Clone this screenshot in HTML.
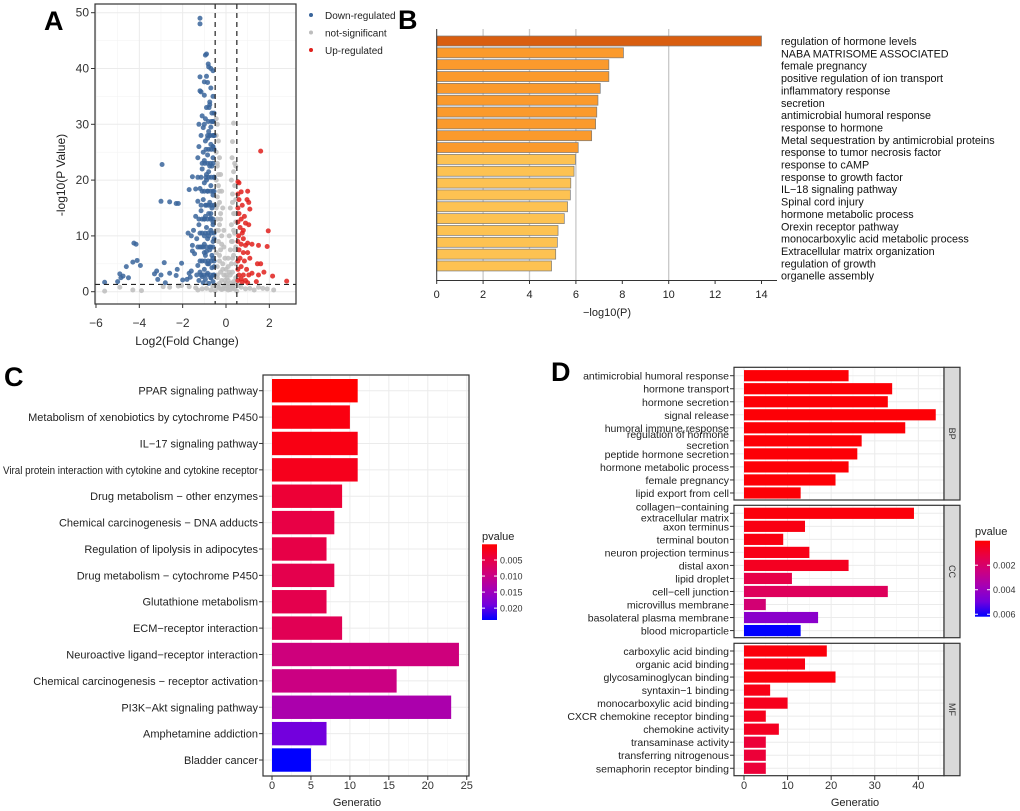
<!DOCTYPE html>
<html><head><meta charset="utf-8"><style>
body{margin:0;background:#fff;}
svg{display:block;font-family:"Liberation Sans",sans-serif;}
</style></head><body>
<svg id="fig" width="1020" height="811" viewBox="0 0 1020 811">
<g font-weight="bold" font-size="27">
<text x="44" y="30">A</text>
<text x="398" y="29">B</text>
<text x="4" y="386">C</text>
<text x="551" y="381">D</text>
</g>
</svg>
<script>
const NS="http://www.w3.org/2000/svg";
const svg=document.getElementById('fig');
function mk(tag,attrs,parent,text){const e=document.createElementNS(NS,tag);for(const k in attrs)e.setAttribute(k,attrs[k]);if(text!==undefined)e.textContent=text;(parent||svg).appendChild(e);return e;}
function fit(el,maxW){const w=el.getComputedTextLength();if(w>maxW){el.setAttribute('textLength',maxW);el.setAttribute('lengthAdjust','spacingAndGlyphs');}}

// ---------- Panel A data ----------
const blueX=[-5.6,-5.0,-4.9,-4.85,-4.75,-4.6,-4.5,-4.3,-4.25,-4.15,-4.1,-3.95,-3.3,-3.2,-3.15,-3.0,-2.95,-3.0,-2.85,-2.8,-2.6,-2.6,-2.3,-2.2,-2.25,-2.3,-2.05,-2.0,-1.8,-1.7,-1.65,-1.6,-1.7,-1.55,-1.4,-1.75,-1.6,-1.55,-1.55,-1.5,
-1.2,-1.2,-0.9,-0.95,-0.82,-0.8,-0.7,-0.6,-1.2,-0.9,-1.0,-0.85,-0.7,-1.2,-1.15,-1.0,-0.6,-0.75,-0.9,-0.65,-1.1,-1.25,-1.05,-0.8,-1.15,-0.55,-0.95,-0.7,-1.25,-1.05,-0.85,-0.6,-1.3,-1.0,-0.75,-1.1,-0.9,-0.55,-1.3,-1.0,-0.7,-1.2,-0.85,-0.6,-1.05,-1.3,-0.9,-0.65,-1.15,-0.8,-1.4,-1.0,-0.6,-1.25,-0.9,-0.7,-1.1,-1.35,-0.85,-0.6,-1.0,-1.2,-0.75,-1.45,-0.95,-0.6,-1.1,-0.8,-1.3,-0.65,-1.0,-1.2,-0.85,-0.55,-1.1,-0.7,-0.95,-1.25,-0.6,-0.8,-1.05,-0.75,-0.6,-0.95,-0.7,-0.85,-0.6,-0.8,-0.65,-0.75,-0.95,-0.7,-0.8,-0.9,-0.7,-1.0,-0.55,-0.65,-0.55,-0.6,-0.7,-0.55,-0.9,-1.1,-0.6,-0.75,-1.0,
-0.55,-0.7,-0.85,-1.0,-1.15,-1.35,-0.58,-0.72,-0.88,-1.02,-1.2,-0.55,-0.68,-0.82,-0.97,-1.12,-1.3,-0.6,-0.75,-0.9,-1.05,-1.2,-0.55,-0.68,-0.82,-0.95,-1.1,-1.25,-0.6,-0.72,-0.85,-1.0,-1.15,-0.55,-0.68,-0.8,-0.95,-1.1,-0.6,-0.72,-0.85,-1.0,-1.15,-0.55,-0.68,-0.8,-0.92,-0.6,-0.72,-0.85,-0.98,-0.55,-0.68,-0.8,-0.92,-0.6,-0.72,-0.85,-0.55,-0.68,-0.82,-0.6,-0.78];
const blueY=[1.7,1.8,3.2,2.5,2.8,4.5,2.5,5.3,8.7,8.5,5.6,4.7,3.2,3.7,2.2,3.0,22.8,16.2,5.2,1.6,16.1,3.3,15.8,15.8,4.0,2.9,5.1,2.1,2.2,3.3,2.6,3.7,18.3,20.6,18.4,10.5,10.0,7.3,8.3,11.0,
49,48,42.6,42.4,40.8,40.3,40,39.6,38.5,38.6,37.6,37.5,36.5,36,35.8,35.2,35,34,33,32,31.5,30,29.4,28.7,28,28,27,26.4,26,25,24.5,24,24,23.5,22.5,22,21,20.5,20.5,19.5,19,18.5,18,17.3,16.5,16.2,15.5,15,14.5,14,13.5,13,12.5,12,11.5,11,10.5,9.5,9.5,9,8.5,8,7.5,6.8,6.5,6,5.5,5,4.7,4.3,4,3.5,3.3,3,2.7,2.5,2.2,2.0,1.8,1.5,1.6,33.5,30.5,31,29.5,27.5,26,21.5,22.5,16,13.5,13.2,10,7.2,8,10,4.5,6.5,9.5,12,14,18,20,23,26,28,30,32,2.5,5,7,
3,3,3,3,3,3,5.5,5.5,5.5,5.5,5.5,8,8,8,8,8,8,10.5,10.5,10.5,10.5,10.5,13,13,13,13,13,13,15.5,15.5,15.5,15.5,15.5,18,18,18,18,18,20.5,20.5,20.5,20.5,20.5,23,23,23,23,25.5,25.5,25.5,25.5,28,28,28,28,30.5,30.5,30.5,33,33,33,36,36];
const greyX=[-0.45,-0.4,-0.45,-0.35,-0.45,-0.3,-0.4,-0.25,-0.45,-0.35,-0.2,-0.4,-0.3,-0.45,-0.15,-0.25,-0.4,-0.3,-0.1,-0.45,-0.2,-0.35,-0.1,-0.25,-0.45,-0.05,-0.3,-0.15,-0.4,0,-0.25,-0.1,-0.4,0.05,-0.2,0.1,-0.3,0,0.2,-0.1,0.15,0.3,-0.35,0,-0.2,0.2,0.4,
0.35,0.3,0.28,0.4,0.45,0.35,0.25,0.4,0.3,0.45,0.2,0.35,0.45,0.25,0.15,0.4,0.3,0.45,0.2,0.35,0.1,0.45,0.25,0.3,0.15,0.45,0.35,
-5.6,-4.9,-4.3,-3.9,-2.9,-2.6,-2.2,-2.05,-1.7,-1.4,-1.3,-1.1,-0.9,-0.7,0.7,0.9,1.1,1.3,1.5,1.7,1.9,2.2,-0.6,0.6,-0.5,0.5,
-0.4,-0.3,-0.2,-0.35,-0.25,-0.4,-0.3,-0.35,-0.4,-0.15,0,0.1,0.2,0.3,0.4,0.25,0.35,0.4,0.3,-0.05,0.05,-0.15,0.1,0.3,-0.3,-0.4,0.4];
const greyY=[31,30,28,27,25,24,22.5,21,20,19,18,17,16,15,15,14,13,12,11,11,10,9,8,7.5,7,6,5.5,5,4.5,4,3.5,3,2.5,2.5,2,2,1.5,1.5,1.5,1,1,1,0.8,0.5,0.4,0.4,0.5,
30.2,26.9,24,23,22.5,21.5,20,19,17.5,16.5,15,14,12.5,12,10,10.5,9,8,7.5,6.5,6,5,5,3.5,3.5,2.5,1.8,
0.1,0.8,0.3,0.2,0.9,0.8,1.0,1.1,0.9,0.7,0.3,0.5,0.6,0.3,0.8,0.5,0.6,0.3,0.8,0.6,0.5,0.3,1.0,1.1,0.2,0.1,
3,6.5,8.5,11,13,15.5,18,21,23,4,3,4.5,3,6,7.5,9,11,14,16,2,1,0.5,0.3,0.6,0.6,1.2,1.4];
const redX=[1.6,0.55,0.6,0.55,0.6,0.7,0.75,1.0,0.97,1.05,0.55,0.6,0.85,0.9,1.1,0.55,0.65,0.75,0.58,0.8,0.55,0.7,0.9,1.0,1.2,1.5,1.9,1.95,0.6,0.8,1.0,0.65,0.55,0.85,1.1,1.45,1.6,0.7,0.55,0.95,1.2,0.6,0.8,1.05,1.5,1.75,0.7,0.55,0.9,1.0,0.75,1.4,2.15,2.8,1.05,0.8,0.7];
const redY=[25.2,19.7,19.5,17.5,16.5,17.9,15.5,18,16.5,16,15,14,13.5,12.3,14.8,12.5,11.5,10.5,10,9.5,9,8.5,8.3,8.7,8.5,8.3,8.1,10.9,7.5,7,7,6,5.5,5.5,6,5,5,4.5,4,4,3.3,3,3,3,3,3.5,2.3,2,2,1.6,1.7,1.8,2.8,1.9,12.0,11,13];
const aXTicks=[-6,-4,-2,0,2];
const aYTicks=[0,10,20,30,40,50];
const fcCut=0.5, pCut=1.3;

const ax=v=>226+v*21.67, ay=v=>291.7-v*5.58;
const gA=mk('g',{});


mk('rect',{x:95,y:4,width:201,height:300,fill:'#fff'},gA);
[-5,-3,-1,1].forEach(v=>mk('line',{x1:ax(v),x2:ax(v),y1:4,y2:304,stroke:'#f3f3f3','stroke-width':0.6},gA));
[5,15,25,35,45].forEach(v=>mk('line',{x1:95,x2:296,y1:ay(v),y2:ay(v),stroke:'#f3f3f3','stroke-width':0.6},gA));
aXTicks.forEach(v=>{mk('line',{x1:ax(v),x2:ax(v),y1:4,y2:304,stroke:'#ebebeb','stroke-width':1},gA);
 mk('line',{x1:ax(v),x2:ax(v),y1:304,y2:308,stroke:'#333'},gA);
 const t=mk('text',{x:ax(v),y:327,'text-anchor':'middle','font-size':12,fill:'#333'},gA,String(v).replace('-','−'));
 });
aYTicks.forEach(v=>{mk('line',{x1:95,x2:296,y1:ay(v),y2:ay(v),stroke:'#ebebeb','stroke-width':1},gA);
 mk('line',{x1:91,x2:95,y1:ay(v),y2:ay(v),stroke:'#333'},gA);
 const t=mk('text',{x:89,y:ay(v)+4,'text-anchor':'end','font-size':12,fill:'#333'},gA,String(v));
 });
function pts(X,Y,col,name){X.forEach((x,i)=>{const c=mk('circle',{cx:ax(x),cy:ay(Y[i]),r:2.5,fill:col,'fill-opacity':0.85},gA);});}
pts(greyX,greyY,'#bdbdbd','not-significant-point');
pts(blueX,blueY,'#3a659b','down-regulated-point');
pts(redX,redY,'#e0201c','up-regulated-point');
mk('line',{x1:ax(-fcCut),x2:ax(-fcCut),y1:4,y2:304,stroke:'#222','stroke-dasharray':'5,4','stroke-width':1.2},gA);
mk('line',{x1:ax(fcCut),x2:ax(fcCut),y1:4,y2:304,stroke:'#222','stroke-dasharray':'5,4','stroke-width':1.2},gA);
mk('line',{x1:95,x2:296,y1:ay(pCut),y2:ay(pCut),stroke:'#222','stroke-dasharray':'5,4','stroke-width':1.2},gA);
mk('rect',{x:95,y:4,width:201,height:300,fill:'none',stroke:'#333','stroke-width':1.2},gA);
let t=mk('text',{x:187,y:345,'text-anchor':'middle','font-size':12,fill:'#222'},gA,'Log2(Fold Change)');

t=mk('text',{x:0,y:0,'text-anchor':'middle','font-size':12,fill:'#222',transform:'translate(65,175) rotate(-90)'},gA,'-log10(P Value)');

[['Down-regulated','#3a659b'],['not-significant','#bdbdbd'],['Up-regulated','#e0201c']].forEach((d,i)=>{
 const g=mk('g',{},gA);
 mk('circle',{cx:311,cy:15+i*17.5,r:2,fill:d[1]},g);
 mk('text',{x:325,y:19+i*17.5,'font-size':10,fill:'#222'},g,d[0]);});

// ---------- Panel B ----------
const bTerms=["regulation of hormone levels","NABA MATRISOME ASSOCIATED","female pregnancy","positive regulation of ion transport","inflammatory response","secretion","antimicrobial humoral response","response to hormone","Metal sequestration by antimicrobial proteins","response to tumor necrosis factor","response to cAMP","response to growth factor","IL−18 signaling pathway","Spinal cord injury","hormone metabolic process","Orexin receptor pathway","monocarboxylic acid metabolic process","Extracellular matrix organization","regulation of growth","organelle assembly"];
const bValues=[14,8.05,7.42,7.42,7.05,6.95,6.9,6.85,6.68,6.1,5.98,5.92,5.78,5.76,5.64,5.5,5.23,5.2,5.13,4.95];
const bTicks=[0,2,4,6,8,10,12,14];
const bx=v=>436.7+v*23.2, by=i=>41+i*11.84;
const gB=mk('g',{});


[2,4,6,10].forEach(v=>mk('line',{x1:bx(v),x2:bx(v),y1:29,y2:280,stroke:'#c8c8c8','stroke-width':1.3},gB));
bValues.forEach((v,i)=>{const col=v>=10?'#d95e10':(v>=6.05?'#fb9a2c':'#fdc252');
 const r=mk('rect',{x:bx(0),y:by(i)-5,width:bx(v)-bx(0),height:10,fill:col,stroke:'#7a7a7a','stroke-width':0.7},gB);
 
 const l=mk('text',{x:781,y:45+i*12.35,'font-size':10.8,fill:'#111'},gB,bTerms[i]);
 });
mk('line',{x1:436.7,x2:436.7,y1:29,y2:281,stroke:'#333'},gB);
mk('line',{x1:436.7,x2:777,y1:280.5,y2:280.5,stroke:'#333'},gB);
bTicks.forEach(v=>{mk('line',{x1:bx(v),x2:bx(v),y1:280,y2:284,stroke:'#333'},gB);
 const t=mk('text',{x:bx(v),y:298,'text-anchor':'middle','font-size':11,fill:'#222'},gB,String(v));
 });
t=mk('text',{x:607,y:316,'text-anchor':'middle','font-size':11,fill:'#222'},gB,'−log10(P)');


// ---------- colour scale ----------
const stops=[[0,[255,0,0]],[0.2,[232,0,69]],[0.4,[204,0,128]],[0.6,[165,0,181]],[0.8,[115,0,221]],[1,[0,0,255]]];
function pcol(f){f=Math.max(0,Math.min(1,f));for(let i=1;i<stops.length;i++){if(f<=stops[i][0]){const a=stops[i-1],b=stops[i],u=(f-a[0])/(b[0]-a[0]);return 'rgb('+a[1].map((c,k)=>Math.round(c+(b[1][k]-c)*u)).join(',')+')';}}return 'rgb(0,0,255)';}

// ---------- Panel C ----------
const cTerms=["PPAR signaling pathway","Metabolism of xenobiotics by cytochrome P450","IL−17 signaling pathway","Viral protein interaction with cytokine and cytokine receptor","Drug metabolism − other enzymes","Chemical carcinogenesis − DNA adducts","Regulation of lipolysis in adipocytes","Drug metabolism − cytochrome P450","Glutathione metabolism","ECM−receptor interaction","Neuroactive ligand−receptor interaction","Chemical carcinogenesis − receptor activation","PI3K−Akt signaling pathway","Amphetamine addiction","Bladder cancer"];
const cValues=[11,10,11,11,9,8,7,8,7,9,24,16,23,7,5];
const cPvalues=[0.0001,0.0012,0.0014,0.002,0.0038,0.0048,0.005,0.0055,0.0055,0.006,0.0092,0.0097,0.0135,0.019,0.0237];
const cTicks=[0,5,10,15,20,25];
const cLegTicks=[0.005,0.010,0.015,0.020];
const cPmin=0.0001,cPmax=0.0237;
const cx=v=>272+v*7.79, cy=i=>390.7+i*26.38;
const gC=mk('g',{});


mk('rect',{x:263,y:375,width:206,height:401,fill:'#fff'},gC);
[2.5,7.5,12.5,17.5,22.5].forEach(v=>mk('line',{x1:cx(v),x2:cx(v),y1:375,y2:776,stroke:'#f4f4f4','stroke-width':0.6},gC));
cTicks.forEach(v=>mk('line',{x1:cx(v),x2:cx(v),y1:375,y2:776,stroke:'#ebebeb'},gC));
cTerms.forEach((n,i)=>mk('line',{x1:263,x2:469,y1:cy(i),y2:cy(i),stroke:'#ebebeb'},gC));
cValues.forEach((v,i)=>{const r=mk('rect',{x:cx(0),y:cy(i)-11.7,width:cx(v)-cx(0),height:23.4,fill:pcol((cPvalues[i]-cPmin)/(cPmax-cPmin))},gC);
 
 mk('line',{x1:259,x2:263,y1:cy(i),y2:cy(i),stroke:'#333'},gC);
 const l=mk('text',{x:258,y:cy(i)+4,'text-anchor':'end','font-size':11,fill:'#222'},gC,cTerms[i]);
 
 fit(l,255);});
mk('rect',{x:263,y:375,width:206,height:401,fill:'none',stroke:'#333','stroke-width':1.2},gC);
cTicks.forEach(v=>{mk('line',{x1:cx(v),x2:cx(v),y1:776,y2:780,stroke:'#333'},gC);
 const t=mk('text',{x:cx(v),y:789,'text-anchor':'middle','font-size':11,fill:'#333'},gC,String(v));
 });
t=mk('text',{x:357,y:806,'text-anchor':'middle','font-size':11,fill:'#222'},gC,'Generatio');

function colorbar(g,x,y0,y1,pmin,pmax,ticks,fmt,id,titleY){
 const defs=mk('defs',{},g);const lg=mk('linearGradient',{id:id,x1:0,y1:0,x2:0,y2:1},defs);
 stops.forEach(s=>mk('stop',{offset:s[0],'stop-color':'rgb('+s[1].join(',')+')'},lg));
 const r=mk('rect',{x:x,y:y0,width:15,height:y1-y0,fill:'url(#'+id+')'},g);
 
 const tt=mk('text',{x:x,y:titleY,'font-size':11,fill:'#222'},g,'pvalue');
 
 ticks.forEach(p=>{const yy=y0+(p-pmin)/(pmax-pmin)*(y1-y0);
  mk('line',{x1:x,x2:x+3,y1:yy,y2:yy,stroke:'#fff'},g);mk('line',{x1:x+12,x2:x+15,y1:yy,y2:yy,stroke:'#fff'},g);
  const l=mk('text',{x:x+18,y:yy+3.5,'font-size':9,fill:'#333'},g,p.toFixed(fmt));
  });}
colorbar(gC,482,544.3,620,cPmin,cPmax,cLegTicks,3,'gc',540);

// ---------- Panel D ----------
const dBP=["antimicrobial humoral response","hormone transport","hormone secretion","signal release","humoral immune response","regulation of hormone\nsecretion","peptide hormone secretion","hormone metabolic process","female pregnancy","lipid export from cell"];
const dBPValues=[24,34,33,44,37,27,26,24,21,13];
const dBPP=[0.0001,0.0001,0.0001,0.0001,0.0001,0.0001,0.0001,0.0001,0.0001,0.0001];
const dCC=["collagen−containing\nextracellular matrix","axon terminus","terminal bouton","neuron projection terminus","distal axon","lipid droplet","cell−cell junction","microvillus membrane","basolateral plasma membrane","blood microparticle"];
const dCCValues=[39,14,9,15,24,11,33,5,17,13];
const dCCP=[0.0002,0.0003,0.0003,0.0004,0.0006,0.0013,0.0017,0.0022,0.0044,0.0062];
const dMF=["carboxylic acid binding","organic acid binding","glycosaminoglycan binding","syntaxin−1 binding","monocarboxylic acid binding","CXCR chemokine receptor binding","chemokine activity","transaminase activity","transferring nitrogenous","semaphorin receptor binding"];
const dMFValues=[19,14,21,6,10,5,8,5,5,5];
const dMFP=[0.0002,0.0003,0.0002,0.0004,0.0005,0.0005,0.0006,0.001,0.001,0.001];
const dTicks=[0,10,20,30,40];
const dLegTicks=[0.002,0.004,0.006];
const dPmin=0.0,dPmax=0.0062;
const dx=v=>744+v*4.358;
const gD=mk('g',{});


const facets=[["BP",dBP,dBPValues,dBPP,367.3,500,375.7],["CC",dCC,dCCValues,dCCP,505.3,637.7,513.3],["MF",dMF,dMFValues,dMFP,643.3,775.7,651]];
facets.forEach(f=>{const [nm,terms,vals,ps,top,bot,c0]=f;
 const g=mk('g',{},gD);
 mk('rect',{x:734,y:top,width:210,height:bot-top,fill:'#fff'},g);
 [5,15,25,35,45].forEach(v=>mk('line',{x1:dx(v),x2:dx(v),y1:top,y2:bot,stroke:'#f4f4f4','stroke-width':0.6},g));
 dTicks.forEach(v=>mk('line',{x1:dx(v),x2:dx(v),y1:top,y2:bot,stroke:'#ebebeb'},g));
 vals.forEach((v,i)=>{const yy=c0+i*13.03;
  mk('line',{x1:734,x2:944,y1:yy,y2:yy,stroke:'#ebebeb'},g);
  const r=mk('rect',{x:dx(0),y:yy-5.6,width:dx(v)-dx(0),height:11.2,fill:pcol((ps[i]-dPmin)/(dPmax-dPmin))},g);
  
  mk('line',{x1:730,x2:734,y1:yy,y2:yy,stroke:'#333'},g);
  const lines=terms[i].split('\n');
  lines.forEach((ln,k)=>{const l=mk('text',{x:729,y:yy+4+(lines.length>1?(k===0?-7:4):0),'text-anchor':'end','font-size':10.5,fill:'#222'},g,ln);
   });});
 mk('rect',{x:734,y:top,width:210,height:bot-top,fill:'none',stroke:'#333','stroke-width':1.2},g);
 const s=mk('rect',{x:944,y:top,width:16,height:bot-top,fill:'#d9d9d9',stroke:'#333','stroke-width':1.2},g);
 
 const st=mk('text',{x:0,y:0,'text-anchor':'middle','font-size':9,fill:'#333',transform:'translate(949,'+((top+bot)/2)+') rotate(90)'},g,nm);
 });
dTicks.forEach(v=>{mk('line',{x1:dx(v),x2:dx(v),y1:776,y2:780,stroke:'#333'},gD);
 const t=mk('text',{x:dx(v),y:789,'text-anchor':'middle','font-size':11,fill:'#333'},gD,String(v));
 });
t=mk('text',{x:855,y:806,'text-anchor':'middle','font-size':11,fill:'#222'},gD,'Generatio');

colorbar(gD,975,540.7,616.7,dPmin,dPmax,dLegTicks,3,'gd',535);
</script>
</body></html>
